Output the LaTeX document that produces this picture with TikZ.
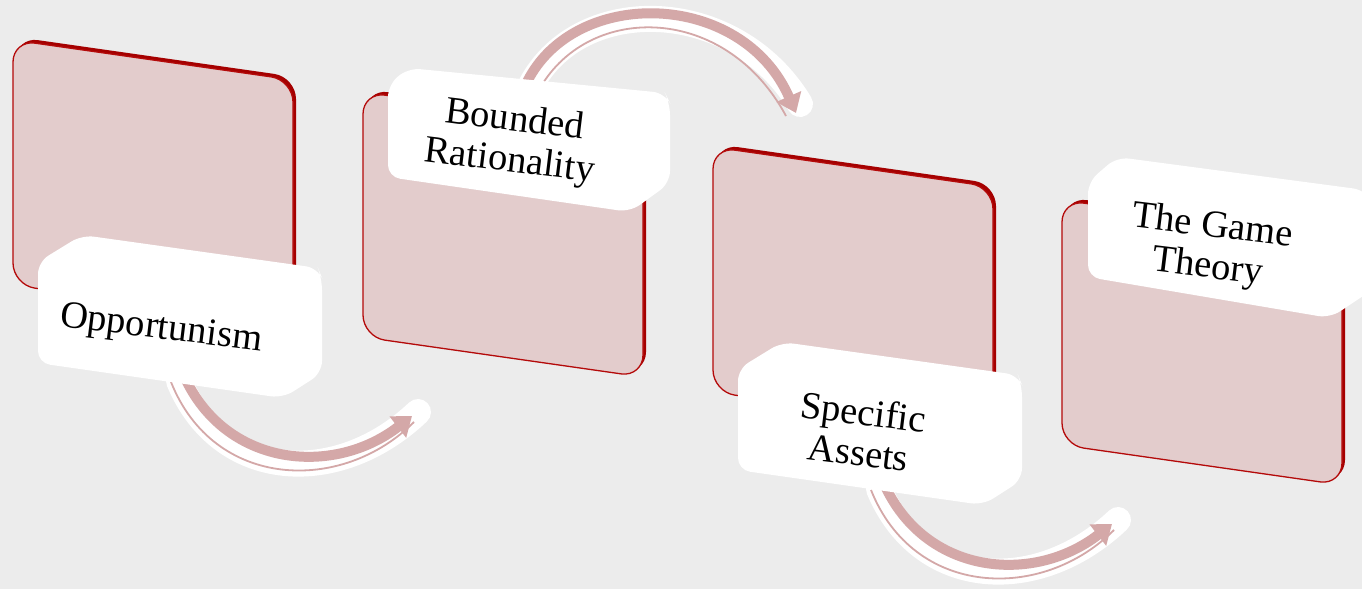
\documentclass[tikz,border=0pt]{standalone}
\usepackage{fontspec}
\setmainfont{Liberation Serif}
\usetikzlibrary{arrows.meta}
\definecolor{bg}{RGB}{236,236,236}
\definecolor{panelfill}{RGB}{227,204,204}
\definecolor{panelred}{RGB}{180,10,10}
\definecolor{paneldark}{RGB}{165,0,0}
\definecolor{arrowpink}{RGB}{212,168,168}
\tikzset{
  panelback/.style={fill=paneldark, rounded corners=22pt},
  panelfront/.style={fill=panelfill, draw=panelred, line width=1.3pt, rounded corners=22pt},
  labelbox/.style={fill=white, rounded corners=12pt},
  labeltext/.style={font=\fontsize{38.5}{41}\selectfont, align=center, rotate=-7, inner sep=0pt, text=black},
  arrowglow/.style={draw=white, line width=26pt, line cap=round},
  arrowband/.style={draw=arrowpink, line width=10pt, -{Triangle[length=18pt,width=26pt]}},
  arrowthin/.style={draw=arrowpink, line width=1.8pt},
}
\begin{document}
\begin{tikzpicture}[x=1pt,y=-1pt]
\useasboundingbox (0,0) rectangle (1362,589);
\fill[bg] (0,0) rectangle (1362,589);

% panels
\foreach \dx/\dy in {0/0, 350/52, 700/107, 1049/160}{
  \begin{scope}[shift={(\dx,\dy)}]
    \path[panelback] (16,37) -- (296,77) -- (296,322) -- (16,282) -- cycle;
    \path[panelfront] (13,40) -- (293,80) -- (293,325) -- (13,285) -- cycle;
  \end{scope}
}

% connector end points
\coordinate (a1s) at (186,380);
\coordinate (a1e) at (412,416);
\coordinate (a2s) at (527,82);
\coordinate (a2e) at (796,113);
\coordinate (a3s) at (886,488);
\coordinate (a3e) at (1112,524);

% arrow 1
\path[arrowglow] (179,381) .. controls (221,482) and (338,488) .. (418,412);
\path[arrowthin] (171,382) .. controls (214,490) and (342,494) .. (414,422);
\path[arrowband] (a1s) .. controls (229,468) and (335,476) .. (a1e);
% arrow 2
\path[arrowglow] (531,85) .. controls (580,-8) and (735,-4) .. (800,104);
\path[arrowthin] (540,88) .. controls (590,2) and (726,4) .. (786,116);
\path[arrowband] (a2s) .. controls (575,-14) and (742,-10) .. (a2e);
% arrow 3
\path[arrowglow] (879,489) .. controls (921,590) and (1038,596) .. (1118,520);
\path[arrowthin] (871,490) .. controls (914,598) and (1042,602) .. (1114,530);
\path[arrowband] (a3s) .. controls (929,576) and (1035,584) .. (a3e);

% label boxes
\path[labelbox] (38,262) -- (82,235) -- (318,268) -- (322,278) -- (322,373) -- (283,398) -- (38,363) -- cycle;
\path[labelbox] (388,85) -- (408,68) -- (665,93) -- (670,103) -- (670,183) -- (630,212) -- (388,177) -- cycle;
\path[labelbox] (738,369) -- (782,342) -- (1018,375) -- (1022,385) -- (1022,480) -- (983,505) -- (738,470) -- cycle;
\path[labelbox] (1088,182) -- (1117,157) -- (1365,190) -- (1372,200) -- (1372,290) -- (1330,318) -- (1088,277) -- cycle;

% texts
\node[labeltext] (t1) at (161,330) {Opportunism};
\node[labeltext] (t2) at (512,142) {Bounded\\Rationality};
\node[labeltext] (t3) at (861,432) {Specific\\Assets};
\node[labeltext] (t4) at (1210,248) {The Game\\Theory};
\end{tikzpicture}
\end{document}
